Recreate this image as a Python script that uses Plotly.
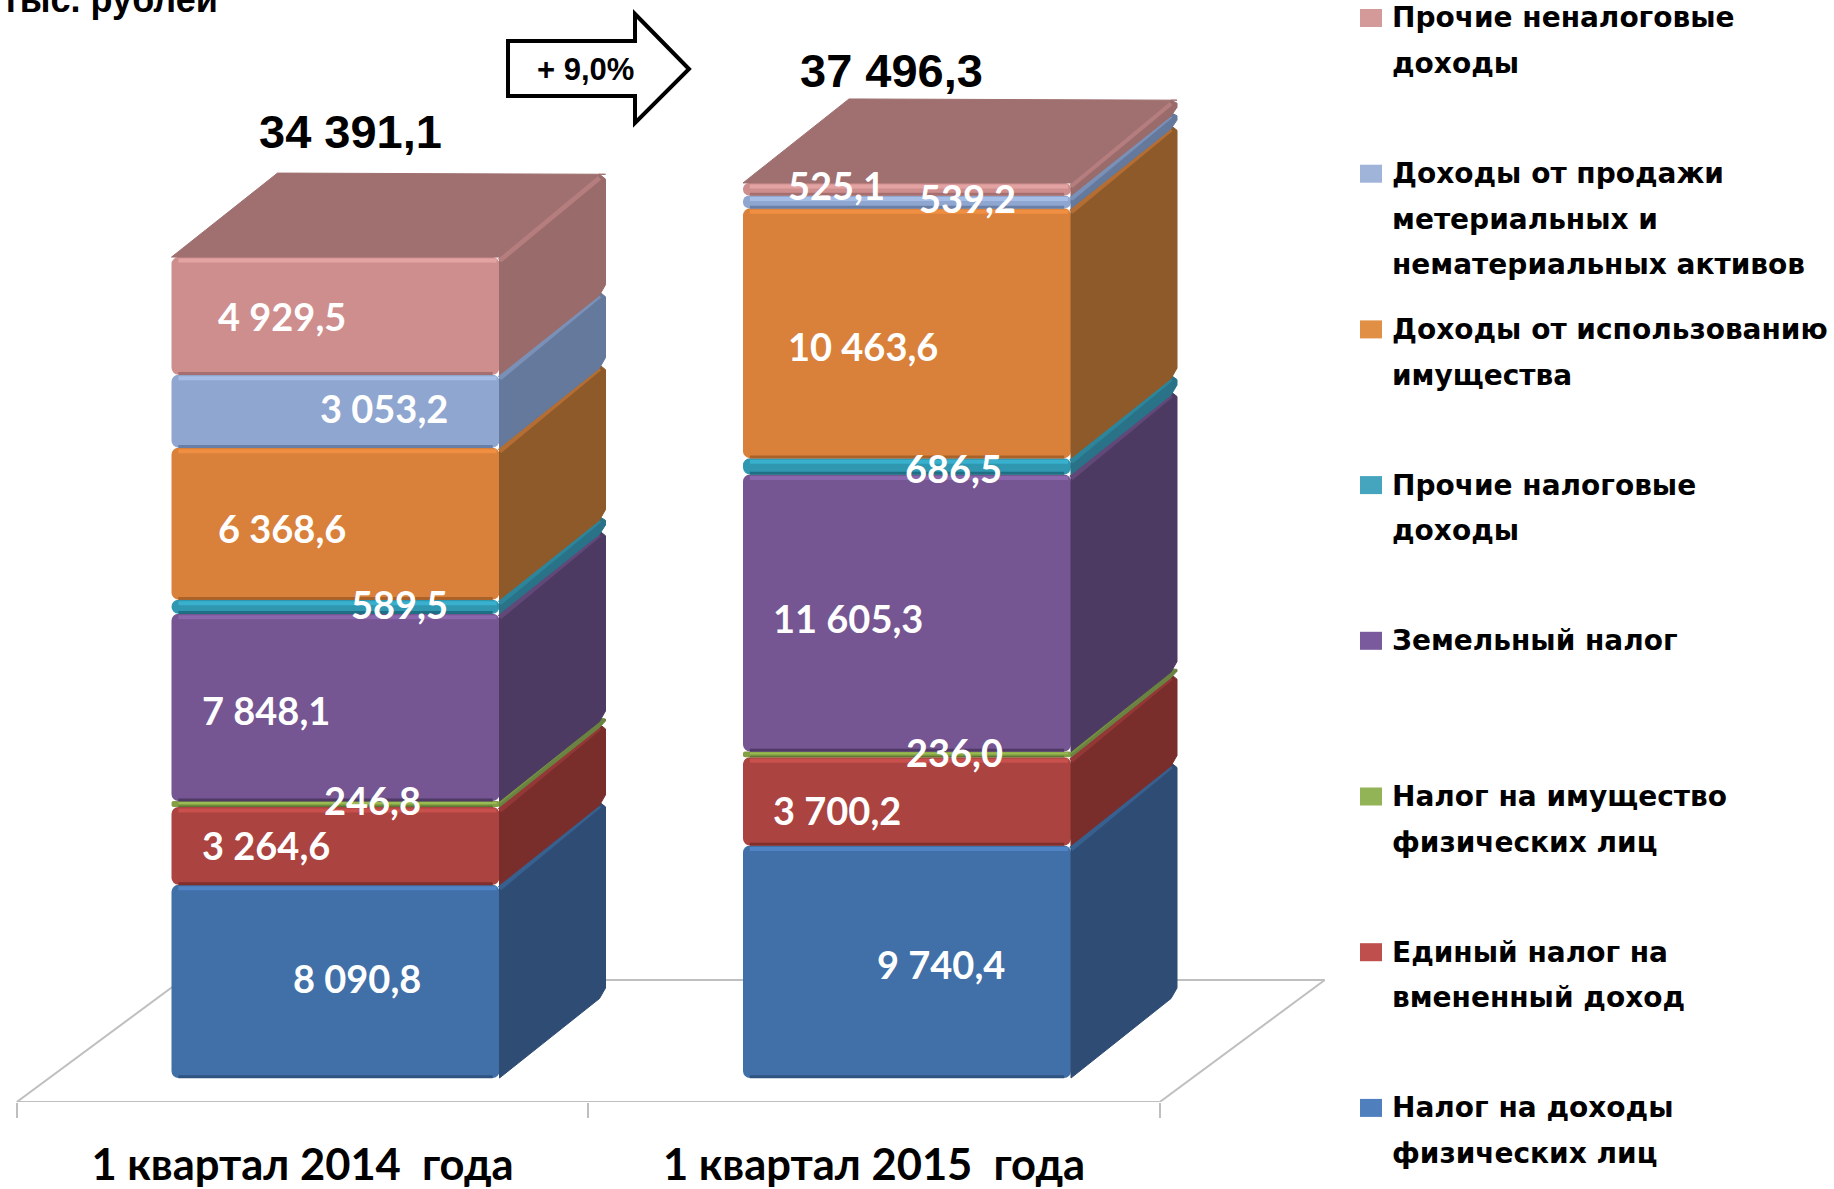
import plotly.graph_objects as go

# ---------- data ----------
CATEGORIES = ["1 квартал 2014\u00a0\u00a0года", "1 квартал 2015\u00a0\u00a0года"]
SERIES = ["Налог на доходы физических лиц", "Единый налог на вмененный доход",
          "Налог на имущество физических лиц", "Земельный налог", "Прочие налоговые доходы",
          "Доходы от использованию имущества",
          "Доходы от продажи метериальных и нематериальных активов",
          "Прочие неналоговые доходы"]
VALUES_2014 = [8090.8, 3264.6, 246.8, 7848.1, 589.5, 6368.6, 3053.2, 4929.5]
VALUES_2015 = [9740.4, 3700.2, 236.0, 11605.3, 686.5, 10463.6, 539.2, 525.1]
LABELS_2014 = ["8 090,8", "3 264,6", "246,8", "7 848,1", "589,5", "6 368,6", "3 053,2", "4 929,5"]
LABELS_2015 = ["9 740,4", "3 700,2", "236,0", "11 605,3", "686,5", "10 463,6", "539,2", "525,1"]
TOTALS = ["34 391,1", "37 496,3"]
TOTAL_VALUES = [34391.1, 37496.3]
GROWTH = "+ 9,0%"
UNIT = "тыс. рублей"
LEGEND_LINES = [
    ["Прочие неналоговые", "доходы"],
    ["Доходы от продажи", "метериальных и", "нематериальных активов"],
    ["Доходы от использованию", "имущества"],
    ["Прочие налоговые", "доходы"],
    ["Земельный налог"],
    ["Налог на имущество", "физических лиц"],
    ["Единый налог на", "вмененный доход"],
    ["Налог на доходы", "физических лиц"],
]

# ---------- styles ----------
FRONT = ["#4170A8", "#AB4340", "#83A045", "#755592", "#2F97B0", "#D9813B", "#8FA6D0", "#CF8E8E"]
SIDE = ["#2E4C74", "#7A2E2C", "#6A8340", "#4D3A63", "#2A7288", "#8F5A2A", "#64799C", "#9A6B6B"]
BAND = ["#38608F", "#933836", "#779243", "#614878", "#2D859C", "#B46E33", "#7A90B6", "#B57D7D"]
GLOW = ["#4F85C6", "#C9504C", "#9ABB52", "#8A66AC", "#38B0CE", "#F08F42", "#A6BEE6", "#E3A3A3"]
EDGE = ["#2F5380", "#7F2F2C", "#5F7533", "#4F3A66", "#1F6F84", "#A9622A", "#6A7FA6", "#A56F6F"]
TOP_PINK = "#A07070"
SWATCH = ["#D49A9A", "#A0B4DA", "#E08F45", "#45A5BF", "#7A5A9C", "#92B356", "#BE4F4C", "#4F7FBD"]
GRID = "#BFBFBF"

W, H = 1834, 1189
PLOT_BOTTOM = 1102
PX_PER_X = 571.5
PX_PER_Y = 0.02387
X0_PX, Y0_PX = 302.5, 1078

BAR_SHIFT = 33 / PX_PER_X
BAR_W = 328 / PX_PER_X
DEPTH_X = 106 / PX_PER_X
DEPTH_Y = 84 / PX_PER_Y
FLOOR_FRONT = -(PLOT_BOTTOM - Y0_PX) / PX_PER_Y
FLOOR_BACK = 98 / PX_PER_Y
FLOOR_DX = 165 / PX_PER_X
CHAMFER_X = 6 / PX_PER_X
CHAMFER_Y = 6 / PX_PER_Y

# pixel offsets of the data labels from the middle of their segment
SHIFT_X = [[21, -69.5, 37, -69.5, 64, -53.7, 48.7, -53.7], [34, -70, 47, -59.5, 46, -44, 60, -71]]
SHIFT_Y = [[-3.5, -1.4, -4, 2.6, -3, 4, -3, 0], [2, 9, -2.4, 4.6, 1.6, 13, -4, -4]]
TOTAL_SHIFT = [(15, 126), (-16, 112)]

fig = go.Figure()
annotations = []

for c, vals in enumerate([VALUES_2014, VALUES_2015]):
    xc = c + BAR_SHIFT
    xl, xr = xc - BAR_W / 2, xc + BAR_W / 2
    labels = [LABELS_2014, LABELS_2015][c]
    base = 0.0
    for i, v in enumerate(vals):
        top = base + v
        h_px = v * PX_PER_Y
        # front of the segment
        fig.add_trace(go.Bar(x=[xc], y=[v], base=[base], width=BAR_W, name=SERIES[i],
                             marker=dict(color=FRONT[i], line=dict(width=0), cornerradius=7),
                             showlegend=False, hovertemplate=SERIES[i] + ": " + labels[i] + "<extra></extra>"))
        # side face, back corners cut
        cy = min(CHAMFER_Y, v / 3)
        bk = xr + DEPTH_X
        fig.add_trace(go.Scatter(x=[xr, bk - CHAMFER_X, bk, bk, bk - CHAMFER_X, xr, xr],
                                 y=[base, base + DEPTH_Y - CHAMFER_Y * 0.75, base + DEPTH_Y + cy,
                                    top + DEPTH_Y - cy, top + DEPTH_Y - CHAMFER_Y * 0.2, top, base],
                                 mode="lines", fill="toself", fillcolor=SIDE[i],
                                 line=dict(color=SIDE[i], width=1), showlegend=False, hoverinfo="skip"))
        inset_y = min(3.5, h_px / 3) / PX_PER_Y
        # highlight along top of the front and along the top of the side
        fig.add_trace(go.Scatter(x=[xl + 0.012, xr - 0.005], y=[top - inset_y, top - inset_y],
                                 mode="lines", line=dict(color=GLOW[i], width=min(4, max(1, h_px / 3))),
                                 showlegend=False, hoverinfo="skip"))
        fig.add_trace(go.Scatter(x=[xr, bk - CHAMFER_X], y=[top - inset_y, top + DEPTH_Y - inset_y - CHAMFER_Y * 0.2],
                                 mode="lines", line=dict(color=BAND[i], width=min(5, max(1, h_px / 3))),
                                 showlegend=False, hoverinfo="skip"))
        # dark edge along the bottom
        fig.add_trace(go.Scatter(x=[xl + 0.012, xr - 0.012], y=[base + inset_y / 3, base + inset_y / 3],
                                 mode="lines", line=dict(color=EDGE[i], width=min(3, max(1, h_px / 4))),
                                 showlegend=False, hoverinfo="skip"))
        annotations.append(dict(x=xc, y=base + v / 2, xref="x", yref="y", text=labels[i], showarrow=False,
                                xshift=SHIFT_X[c][i], yshift=-SHIFT_Y[c][i],
                                font=dict(family="Lato", size=38, color="#FFFFFF", weight="bold")))
        base = top
    # top face of the stack
    fig.add_trace(go.Scatter(x=[xl, xr, xr + DEPTH_X - CHAMFER_X, xr + DEPTH_X, xl + DEPTH_X + CHAMFER_X,
                                xl + DEPTH_X, xl],
                             y=[base, base, base + DEPTH_Y - CHAMFER_Y * 0.2, base + DEPTH_Y - CHAMFER_Y * 0.2,
                                base + DEPTH_Y, base + DEPTH_Y, base],
                             mode="lines", fill="toself", fillcolor=TOP_PINK,
                             line=dict(color=TOP_PINK, width=1), showlegend=False, hoverinfo="skip"))
    annotations.append(dict(x=xc, y=TOTAL_VALUES[c], xref="x", yref="y", text=TOTALS[c], showarrow=False,
                            xshift=TOTAL_SHIFT[c][0], yshift=TOTAL_SHIFT[c][1],
                            font=dict(family="Liberation Sans", size=47, color="#000000", weight="bold")))

# floor of the chart, behind the bars
floor = [(-0.5, FLOOR_FRONT, 1.5, FLOOR_FRONT),
         (-0.5, FLOOR_FRONT, -0.5 + FLOOR_DX, FLOOR_BACK),
         (1.5, FLOOR_FRONT, 1.5 + FLOOR_DX, FLOOR_BACK),
         (-0.5 + FLOOR_DX, FLOOR_BACK, 1.5 + FLOOR_DX, FLOOR_BACK)]
shapes = [dict(type="line", xref="x", yref="y", x0=a, y0=b, x1=d, y1=e, layer="below",
               line=dict(color=GRID, width=2)) for a, b, d, e in floor]

def px(x):
    return x / W

def py(y):
    # paper coordinates run over the plot area, which ends at PLOT_BOTTOM
    return (PLOT_BOTTOM - y) / PLOT_BOTTOM

# legend built from swatches and lines of text
LEGEND_TOP = 18
LEGEND_STEP = 155.7
LINE_STEP = 45.6
for k, lines in enumerate(LEGEND_LINES):
    yc = LEGEND_TOP + k * LEGEND_STEP
    shapes.append(dict(type="rect", xref="paper", yref="paper", x0=px(1360), x1=px(1382),
                       y0=py(yc - 9), y1=py(yc + 9), fillcolor=SWATCH[k], line=dict(width=0)))
    for j, t in enumerate(lines):
        annotations.append(dict(x=px(1390), y=py(yc + j * LINE_STEP), xref="paper", yref="paper", text=t,
                                showarrow=False, xanchor="left", yanchor="middle",
                                font=dict(family="DejaVu Sans", size=28, color="#000000", weight="bold")))

# growth arrow
ax = [508, 635, 635, 689, 635, 635, 508]
ay = [41, 41, 14, 69, 123, 96, 96]
arrow_path = "M " + " L ".join(f"{px(a):.5f} {py(b):.5f}" for a, b in zip(ax, ay)) + " Z"
shapes.append(dict(type="path", xref="paper", yref="paper", path=arrow_path, fillcolor="#FFFFFF",
                   line=dict(color="#000000", width=4)))
annotations.append(dict(x=px(585), y=py(69), xref="paper", yref="paper", text=GROWTH, showarrow=False,
                        xanchor="center", yanchor="middle",
                        font=dict(family="Liberation Sans", size=31, color="#000000", weight="bold")))

# unit caption, cut by the top edge as in the picture
annotations.append(dict(x=px(0), y=py(-1), xref="paper", yref="paper", text=UNIT, showarrow=False,
                        xanchor="left", yanchor="middle",
                        font=dict(family="Liberation Sans", size=36, color="#000000", weight="bold")))

fig.update_layout(
    width=W, height=H, autosize=False, margin=dict(l=0, r=0, t=0, b=H - PLOT_BOTTOM),
    paper_bgcolor="#FFFFFF", plot_bgcolor="rgba(0,0,0,0)", barmode="overlay", showlegend=False,
    shapes=shapes, annotations=annotations,
    xaxis=dict(range=[-X0_PX / PX_PER_X, (W - X0_PX) / PX_PER_X], showgrid=False, zeroline=False,
               tickmode="array", tickvals=[0, 1], ticktext=CATEGORIES, ticks="", showline=False,
               ticklabelstandoff=33, automargin=False,
               tickfont=dict(family="Lato", size=43.5, color="#000000", weight="bold"),
               minor=dict(tickmode="array", tickvals=[-0.5, 0.5, 1.5], ticks="outside", ticklen=15,
                          tickwidth=1.5, tickcolor=GRID, showgrid=False)),
    yaxis=dict(range=[FLOOR_FRONT, Y0_PX / PX_PER_Y], visible=False),
)
fig.write_html("out.html", config={"displayModeBar": False},
               post_script="document.body.style.margin='0';document.documentElement.style.overflow='hidden';")
